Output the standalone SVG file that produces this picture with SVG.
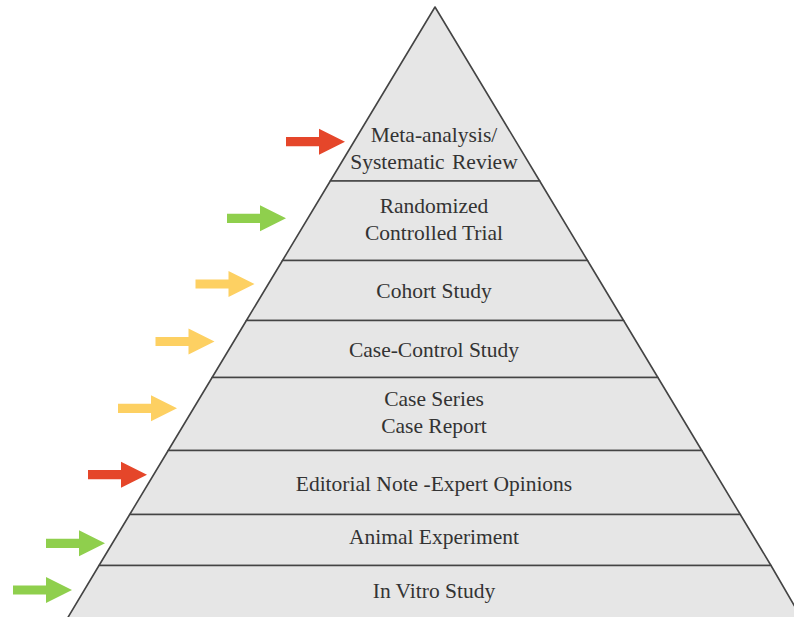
<svg xmlns="http://www.w3.org/2000/svg" width="794" height="617" viewBox="0 0 794 617">
  <style>
    .tier { fill: #e6e6e6; stroke: #444444; stroke-width: 1.6; stroke-linejoin: round; }
    .label { font-family: "Liberation Serif", "Times New Roman", serif; font-size: 21.5px; fill: #333333; text-anchor: middle; }
    .red { fill: #e5462a; }
    .green { fill: #8fcf4d; }
    .yellow { fill: #fdd062; }
  </style>
  <defs>
    <!-- block arrow, tip at (59,0) -->
    <polygon id="arrow" points="0,-4.6 33,-4.6 33,-13 59,0 33,13 33,4.6 0,4.6"/>
  </defs>
  <rect width="794" height="617" fill="#ffffff"/>

  <!-- pyramid tiers, top to bottom -->
  <g id="meta-analysis">
    <polygon class="tier" points="435,7 539.7,181 330.3,181"/>
    <text class="label" x="434" y="141.5">Meta-analysis/</text>
    <text class="label" x="434" y="168.5" word-spacing="2">Systematic Review</text>
  </g>
  <g id="rct">
    <polygon class="tier" points="330.3,181 539.7,181 587.5,260.5 282.5,260.5"/>
    <text class="label" x="434" y="212.5">Randomized</text>
    <text class="label" x="434" y="240">Controlled Trial</text>
  </g>
  <g id="cohort">
    <polygon class="tier" points="282.5,260.5 587.5,260.5 623.6,320.5 246.4,320.5"/>
    <text class="label" x="434" y="298.3">Cohort Study</text>
  </g>
  <g id="case-control">
    <polygon class="tier" points="246.4,320.5 623.6,320.5 657.9,377.5 212.1,377.5"/>
    <text class="label" x="434" y="356.7">Case-Control Study</text>
  </g>
  <g id="case-series">
    <polygon class="tier" points="212.1,377.5 657.9,377.5 701.8,450.5 168.2,450.5"/>
    <text class="label" x="434" y="405.5">Case Series</text>
    <text class="label" x="434" y="432.5">Case Report</text>
  </g>
  <g id="expert-opinion">
    <polygon class="tier" points="168.2,450.5 701.8,450.5 740.3,514.5 129.7,514.5"/>
    <text class="label" x="434" y="490.5">Editorial Note -Expert Opinions</text>
  </g>
  <g id="animal">
    <polygon class="tier" points="129.7,514.5 740.3,514.5 771,565.5 99,565.5"/>
    <text class="label" x="434" y="544">Animal Experiment</text>
  </g>
  <g id="in-vitro">
    <polygon class="tier" points="99,565.5 771,565.5 802,619 67,619"/>
    <text class="label" x="434" y="598.3">In Vitro Study</text>
  </g>

  <!-- level markers pointing at the pyramid -->
  <g id="connectors">
    <use href="#arrow" class="red" transform="translate(286,141.7)"/>
    <use href="#arrow" class="green" transform="translate(227,218.3)"/>
    <use href="#arrow" class="yellow" transform="translate(195.5,284)"/>
    <use href="#arrow" class="yellow" transform="translate(155.5,341.5)"/>
    <use href="#arrow" class="yellow" transform="translate(118,408.3)"/>
    <use href="#arrow" class="red" transform="translate(88,474.7)"/>
    <use href="#arrow" class="green" transform="translate(46,543.3)"/>
    <use href="#arrow" class="green" transform="translate(13,590)"/>
  </g>
</svg>
